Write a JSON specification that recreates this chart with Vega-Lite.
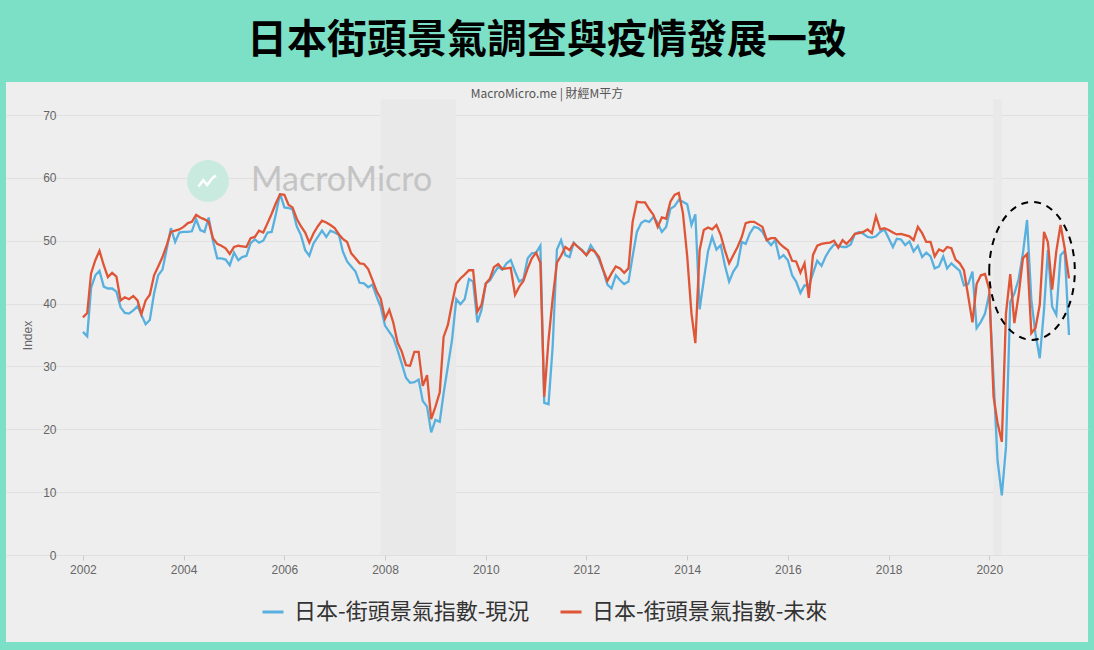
{
"$schema":"https://vega.github.io/schema/vega-lite/v6.json",
"width":1082,"height":560,
"autosize":{"type":"none"},
"padding":{"left":6,"top":82,"right":6,"bottom":8},
"background":"#7be0c5",
"title":{"text":"日本街頭景氣調查與疫情發展一致","subtitle":"MacroMicro.me | 財經M平方","anchor":"middle","frame":"group","font":"Noto Sans CJK TC","fontSize":40,"fontWeight":"bold","color":"#000000","subtitleFont":"Noto Sans CJK TC","subtitleFontSize":12,"subtitleColor":"#555555","subtitlePadding":28,"offset":-18},
"config":{"view":{"fill":"#eeeeee","stroke":null}},
"datasets":{"w":[
{"d":"2002-01","a":35.5,"b":37.8},{"d":"2002-02","a":34.8,"b":38.5},{"d":"2002-03","a":42.5,"b":44.8},{"d":"2002-04","a":44.5,"b":46.9},{"d":"2002-05","a":45.2,"b":48.4},{"d":"2002-06","a":42.7,"b":46.1},{"d":"2002-07","a":42.4,"b":44.2},{"d":"2002-08","a":42.4,"b":44.9},{"d":"2002-09","a":41.9,"b":44.3},{"d":"2002-10","a":39.4,"b":40.5},{"d":"2002-11","a":38.5,"b":41.0},{"d":"2002-12","a":38.4,"b":40.7},
{"d":"2003-01","a":38.9,"b":41.2},{"d":"2003-02","a":39.6,"b":40.5},{"d":"2003-03","a":38.2,"b":38.3},{"d":"2003-04","a":36.7,"b":40.5},{"d":"2003-05","a":37.4,"b":41.4},{"d":"2003-06","a":41.6,"b":44.5},{"d":"2003-07","a":44.5,"b":45.9},{"d":"2003-08","a":45.4,"b":47.4},{"d":"2003-09","a":48.7,"b":49.3},{"d":"2003-10","a":52.0,"b":51.4},{"d":"2003-11","a":49.8,"b":51.6},{"d":"2003-12","a":51.3,"b":51.8},
{"d":"2004-01","a":51.4,"b":52.2},{"d":"2004-02","a":51.4,"b":52.8},{"d":"2004-03","a":51.5,"b":53.0},{"d":"2004-04","a":53.4,"b":54.1},{"d":"2004-05","a":51.7,"b":53.7},{"d":"2004-06","a":51.4,"b":53.4},{"d":"2004-07","a":53.7,"b":53.0},{"d":"2004-08","a":50.0,"b":50.4},{"d":"2004-09","a":47.2,"b":49.5},{"d":"2004-10","a":47.2,"b":49.2},{"d":"2004-11","a":47.0,"b":48.8},{"d":"2004-12","a":46.1,"b":47.9},
{"d":"2005-01","a":48.1,"b":49.0},{"d":"2005-02","a":46.9,"b":49.2},{"d":"2005-03","a":47.4,"b":49.1},{"d":"2005-04","a":47.6,"b":49.0},{"d":"2005-05","a":49.6,"b":50.4},{"d":"2005-06","a":50.2,"b":50.6},{"d":"2005-07","a":49.7,"b":51.6},{"d":"2005-08","a":50.0,"b":51.3},{"d":"2005-09","a":51.3,"b":52.8},{"d":"2005-10","a":51.4,"b":54.3},{"d":"2005-11","a":54.3,"b":56.0},{"d":"2005-12","a":57.5,"b":57.4},
{"d":"2006-01","a":55.3,"b":57.3},{"d":"2006-02","a":55.2,"b":55.7},{"d":"2006-03","a":55.0,"b":55.3},{"d":"2006-04","a":52.3,"b":53.5},{"d":"2006-05","a":50.9,"b":52.3},{"d":"2006-06","a":48.5,"b":51.3},{"d":"2006-07","a":47.6,"b":49.7},{"d":"2006-08","a":49.6,"b":51.2},{"d":"2006-09","a":50.6,"b":52.3},{"d":"2006-10","a":51.6,"b":53.2},{"d":"2006-11","a":50.6,"b":52.9},{"d":"2006-12","a":51.6,"b":52.5},
{"d":"2007-01","a":51.3,"b":52.0},{"d":"2007-02","a":50.9,"b":51.0},{"d":"2007-03","a":48.3,"b":50.3},{"d":"2007-04","a":46.7,"b":49.8},{"d":"2007-05","a":45.9,"b":48.0},{"d":"2007-06","a":45.1,"b":47.2},{"d":"2007-07","a":43.3,"b":46.4},{"d":"2007-08","a":43.2,"b":46.3},{"d":"2007-09","a":42.6,"b":45.5},{"d":"2007-10","a":43.0,"b":43.8},{"d":"2007-11","a":41.1,"b":42.0},{"d":"2007-12","a":39.5,"b":40.8},
{"d":"2008-01","a":36.5,"b":37.6},{"d":"2008-02","a":35.5,"b":39.0},{"d":"2008-03","a":34.6,"b":37.0},{"d":"2008-04","a":32.6,"b":33.8},{"d":"2008-05","a":30.5,"b":32.4},{"d":"2008-06","a":28.2,"b":30.2},{"d":"2008-07","a":27.4,"b":30.1},{"d":"2008-08","a":27.5,"b":32.3},{"d":"2008-09","a":27.9,"b":32.3},{"d":"2008-10","a":24.5,"b":26.9},{"d":"2008-11","a":23.6,"b":28.6},{"d":"2008-12","a":19.5,"b":21.6},
{"d":"2009-01","a":21.5,"b":23.6},{"d":"2009-02","a":21.2,"b":25.9},{"d":"2009-03","a":25.7,"b":34.7},{"d":"2009-04","a":30.0,"b":36.6},{"d":"2009-05","a":34.2,"b":40.0},{"d":"2009-06","a":40.7,"b":43.2},{"d":"2009-07","a":39.9,"b":44.0},{"d":"2009-08","a":40.7,"b":44.6},{"d":"2009-09","a":43.9,"b":45.3},{"d":"2009-10","a":43.5,"b":45.3},{"d":"2009-11","a":37.0,"b":38.7},{"d":"2009-12","a":39.0,"b":39.8},
{"d":"2010-01","a":43.2,"b":43.2},{"d":"2010-02","a":43.7,"b":44.0},{"d":"2010-03","a":44.8,"b":45.8},{"d":"2010-04","a":45.8,"b":46.3},{"d":"2010-05","a":45.4,"b":45.5},{"d":"2010-06","a":46.4,"b":45.6},{"d":"2010-07","a":46.9,"b":45.7},{"d":"2010-08","a":45.1,"b":41.4},{"d":"2010-09","a":43.5,"b":42.7},{"d":"2010-10","a":43.9,"b":43.6},{"d":"2010-11","a":47.2,"b":45.6},{"d":"2010-12","a":48.0,"b":47.2},
{"d":"2011-01","a":48.1,"b":48.1},{"d":"2011-02","a":49.2,"b":46.5},{"d":"2011-03","a":24.2,"b":25.2},{"d":"2011-04","a":24.0,"b":34.2},{"d":"2011-05","a":33.1,"b":40.8},{"d":"2011-06","a":48.6,"b":46.5},{"d":"2011-07","a":50.1,"b":47.6},{"d":"2011-08","a":47.7,"b":49.0},{"d":"2011-09","a":47.4,"b":48.5},{"d":"2011-10","a":49.7,"b":49.6},{"d":"2011-11","a":49.0,"b":49.0},{"d":"2011-12","a":48.5,"b":48.4},
{"d":"2012-01","a":47.7,"b":47.7},{"d":"2012-02","a":49.3,"b":48.6},{"d":"2012-03","a":48.3,"b":48.3},{"d":"2012-04","a":47.0,"b":47.4},{"d":"2012-05","a":45.3,"b":45.4},{"d":"2012-06","a":43.0,"b":43.6},{"d":"2012-07","a":42.4,"b":44.8},{"d":"2012-08","a":44.5,"b":45.9},{"d":"2012-09","a":43.7,"b":45.6},{"d":"2012-10","a":43.1,"b":44.9},{"d":"2012-11","a":43.5,"b":45.6},{"d":"2012-12","a":47.5,"b":53.0},
{"d":"2013-01","a":51.4,"b":56.2},{"d":"2013-02","a":52.8,"b":56.1},{"d":"2013-03","a":53.2,"b":56.1},{"d":"2013-04","a":53.0,"b":55.0},{"d":"2013-05","a":53.8,"b":54.1},{"d":"2013-06","a":52.8,"b":52.2},{"d":"2013-07","a":51.4,"b":53.7},{"d":"2013-08","a":52.2,"b":53.5},{"d":"2013-09","a":55.1,"b":56.2},{"d":"2013-10","a":55.5,"b":57.3},{"d":"2013-11","a":56.5,"b":57.6},{"d":"2013-12","a":56.2,"b":54.4},
{"d":"2014-01","a":55.8,"b":47.5},{"d":"2014-02","a":52.5,"b":38.4},{"d":"2014-03","a":54.2,"b":33.7},{"d":"2014-04","a":39.1,"b":48.5},{"d":"2014-05","a":43.7,"b":51.7},{"d":"2014-06","a":48.3,"b":52.1},{"d":"2014-07","a":50.6,"b":51.8},{"d":"2014-08","a":48.6,"b":52.5},{"d":"2014-09","a":49.3,"b":50.9},{"d":"2014-10","a":46.1,"b":48.5},{"d":"2014-11","a":43.5,"b":46.4},{"d":"2014-12","a":45.1,"b":47.7},
{"d":"2015-01","a":46.1,"b":49.0},{"d":"2015-02","a":49.8,"b":50.6},{"d":"2015-03","a":49.5,"b":52.8},{"d":"2015-04","a":51.2,"b":53.0},{"d":"2015-05","a":52.2,"b":53.0},{"d":"2015-06","a":52.0,"b":52.6},{"d":"2015-07","a":51.4,"b":52.2},{"d":"2015-08","a":50.1,"b":50.1},{"d":"2015-09","a":49.3,"b":50.4},{"d":"2015-10","a":50.1,"b":50.4},{"d":"2015-11","a":47.2,"b":49.6},{"d":"2015-12","a":47.7,"b":49.0},
{"d":"2016-01","a":46.9,"b":48.5},{"d":"2016-02","a":44.5,"b":46.8},{"d":"2016-03","a":43.5,"b":46.7},{"d":"2016-04","a":41.7,"b":44.9},{"d":"2016-05","a":42.9,"b":46.4},{"d":"2016-06","a":42.8,"b":40.9},{"d":"2016-07","a":44.8,"b":47.7},{"d":"2016-08","a":46.8,"b":49.2},{"d":"2016-09","a":46.0,"b":49.5},{"d":"2016-10","a":47.5,"b":49.6},{"d":"2016-11","a":48.6,"b":49.7},{"d":"2016-12","a":49.4,"b":50.0},
{"d":"2017-01","a":49.2,"b":48.9},{"d":"2017-02","a":49.0,"b":50.1},{"d":"2017-03","a":49.0,"b":49.5},{"d":"2017-04","a":49.4,"b":50.2},{"d":"2017-05","a":51.1,"b":51.1},{"d":"2017-06","a":51.4,"b":51.2},{"d":"2017-07","a":51.1,"b":51.4},{"d":"2017-08","a":50.6,"b":51.8},{"d":"2017-09","a":50.5,"b":51.2},{"d":"2017-10","a":50.7,"b":53.9},{"d":"2017-11","a":51.4,"b":51.8},{"d":"2017-12","a":51.8,"b":52.0},
{"d":"2018-01","a":50.4,"b":51.7},{"d":"2018-02","a":49.0,"b":51.3},{"d":"2018-03","a":50.3,"b":51.0},{"d":"2018-04","a":50.2,"b":51.1},{"d":"2018-05","a":49.3,"b":50.9},{"d":"2018-06","a":49.9,"b":50.7},{"d":"2018-07","a":48.3,"b":50.1},{"d":"2018-08","a":49.2,"b":52.2},{"d":"2018-09","a":47.4,"b":51.2},{"d":"2018-10","a":48.1,"b":49.8},{"d":"2018-11","a":47.5,"b":49.8},{"d":"2018-12","a":45.6,"b":47.5},
{"d":"2019-01","a":45.9,"b":48.6},{"d":"2019-02","a":47.5,"b":48.3},{"d":"2019-03","a":45.6,"b":49.0},{"d":"2019-04","a":46.4,"b":48.8},{"d":"2019-05","a":45.8,"b":47.0},{"d":"2019-06","a":45.2,"b":46.4},{"d":"2019-07","a":42.9,"b":45.3},{"d":"2019-08","a":43.1,"b":41.2},{"d":"2019-09","a":45.1,"b":37.0},{"d":"2019-10","a":36.1,"b":43.1},{"d":"2019-11","a":37.1,"b":44.5},{"d":"2019-12","a":38.4,"b":44.7},
{"d":"2020-01","a":41.6,"b":42.2},{"d":"2020-02","a":28.0,"b":25.2},{"d":"2020-03","a":15.0,"b":21.0},{"d":"2020-04","a":9.5,"b":18.0},{"d":"2020-05","a":17.2,"b":38.4},{"d":"2020-06","a":40.3,"b":44.7},{"d":"2020-07","a":41.6,"b":36.9},{"d":"2020-08","a":43.9,"b":41.4},{"d":"2020-09","a":48.0,"b":47.2},{"d":"2020-10","a":53.3,"b":47.9},{"d":"2020-11","a":40.6,"b":35.3},{"d":"2020-12","a":35.2,"b":36.1},
{"d":"2021-01","a":31.3,"b":39.8},{"d":"2021-02","a":39.0,"b":51.4},{"d":"2021-03","a":48.5,"b":49.8},{"d":"2021-04","a":39.5,"b":42.2},{"d":"2021-05","a":38.2,"b":48.3},{"d":"2021-06","a":47.7,"b":52.5},{"d":"2021-07","a":48.4,"b":48.8},{"d":"2021-08","a":35.0,"b":44.0}
]},
"layer":[
{"data":{"values":[{"s":"2007-12","e":"2009-06"},{"s":"2020-02","e":"2020-04"}]},
 "mark":{"type":"rect","fill":"#e9e9e9"},
 "encoding":{
  "x":{"field":"s","type":"temporal","scale":{"domain":[{"year":2000,"month":6,"date":22},{"year":2021,"month":12,"date":17}]},
       "axis":{"format":"%Y","tickCount":{"interval":"year","step":2},"offset":-87,"grid":false,"domain":false,"ticks":true,"tickColor":"#cccccc","tickSize":5,"labelPadding":4,"labelFontSize":12,"labelColor":"#666666","labelFont":"Liberation Sans","title":null}},
  "x2":{"field":"e"},
  "y":{"datum":0,"type":"quantitative","scale":{"domain":[-13.84,75.25],"nice":false,"zero":false},
       "axis":{"values":[0,10,20,30,40,50,60,70],"offset":-67,"grid":true,"gridColor":"#e0e0e0","gridWidth":1,"domain":false,"ticks":false,"labelPadding":17,"labelFontSize":12,"labelColor":"#666666","labelFont":"Liberation Sans","title":"Index","titleFont":"Liberation Sans","titleFontSize":12,"titleFontWeight":"normal","titleColor":"#666666","titleX":-39,"titleY":253}},
  "y2":{"datum":72.5}}},
{"data":{"values":[{}]},
 "mark":{"type":"point","shape":"circle","filled":true,"fill":"#c8eadf","size":1750,"opacity":1},
 "encoding":{"x":{"datum":{"year":2004,"month":6,"date":26},"type":"temporal"},"y":{"datum":59.5,"type":"quantitative"}}},
{"data":{"values":[{}]},
 "mark":{"type":"point","shape":"M -0.6 0.35 L -0.3 -0.05 L -0.05 0.25 L 0.25 -0.15 L 0.5 -0.35","filled":false,"stroke":"#ffffff","strokeWidth":2.5,"size":1000,"opacity":1},
 "encoding":{"x":{"datum":{"year":2004,"month":6,"date":26},"type":"temporal"},"y":{"datum":59.5,"type":"quantitative"}}},
{"data":{"values":[{}]},
 "mark":{"type":"text","text":"MacroMicro","font":"Lato","fontSize":34,"fill":"#c4c4c4","align":"left","baseline":"middle"},
 "encoding":{"x":{"datum":{"year":2005,"month":5,"date":4},"type":"temporal"},"y":{"datum":59.5,"type":"quantitative"}}},
{"data":{"name":"w"},
 "transform":[{"fold":["a","b"],"as":["s","v"]}],
 "mark":{"type":"line","strokeWidth":2.3},
 "encoding":{
  "x":{"field":"d","type":"temporal"},
  "y":{"field":"v","type":"quantitative"},
  "color":{"field":"s","type":"nominal","scale":{"domain":["a","b"],"range":["#58b0de","#df5536"]},
   "legend":{"orient":"none","legendX":255,"legendY":518,"direction":"horizontal","title":null,"symbolType":"stroke","symbolStrokeWidth":3,"symbolSize":441,"labelFont":"Noto Sans CJK TC","labelFontSize":22,"labelColor":"#333333","labelOffset":9,"labelLimit":400,"columnPadding":24,
   "labelExpr":"datum.label === 'a' ? '日本-街頭景氣指數-現況' : '日本-街頭景氣指數-未來'"}}}},
{"data":{"values":[{}]},
 "mark":{"type":"point","shape":"M -0.62 0 A 0.62 1 0 1 1 0.62 0 A 0.62 1 0 1 1 -0.62 0 Z","filled":false,"stroke":"#000000","strokeWidth":2,"strokeDash":[7,6],"size":19044,"opacity":1},
 "encoding":{"x":{"datum":{"year":2020,"month":11,"date":6},"type":"temporal"},"y":{"datum":45.2,"type":"quantitative"}}}
]
}
